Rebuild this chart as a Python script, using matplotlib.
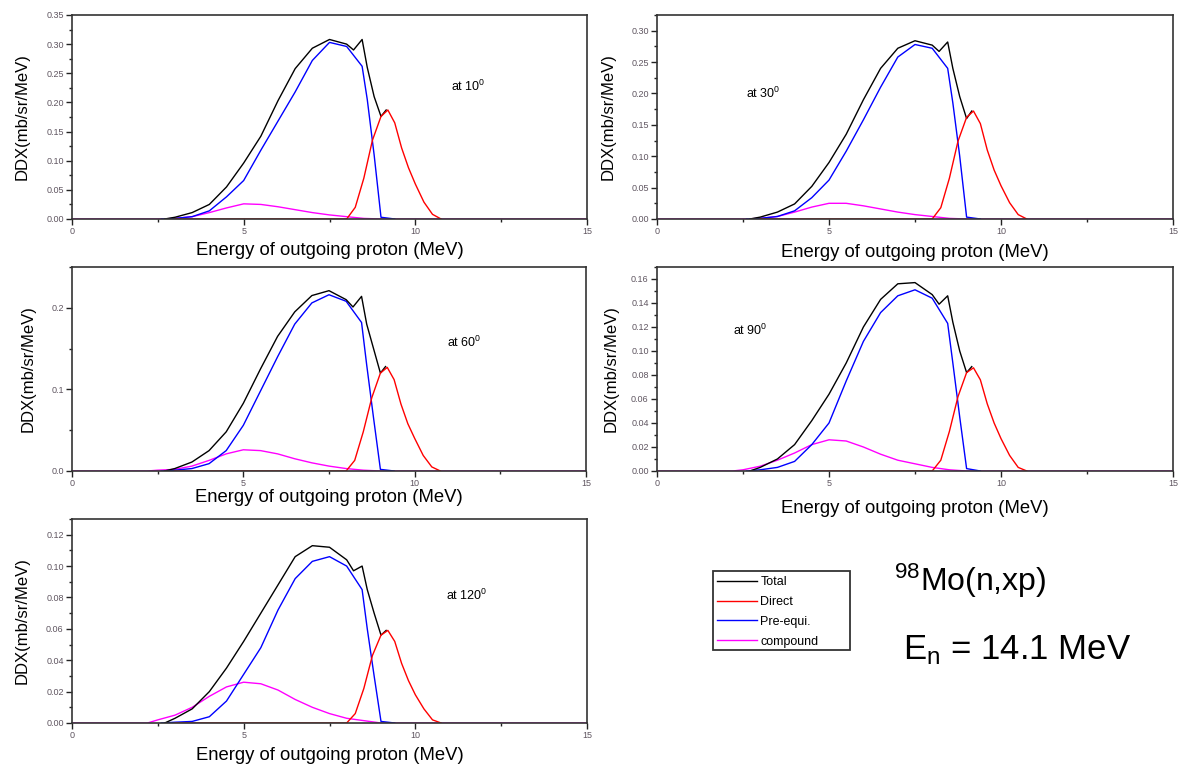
import matplotlib
matplotlib.use("Agg")
import matplotlib.pyplot as plt
from matplotlib.ticker import MultipleLocator, FormatStrFormatter
from matplotlib.lines import Line2D
from matplotlib.patches import Rectangle

plt.rcParams['font.family'] = ['Liberation Sans', 'DejaVu Sans']
plt.rcParams['mathtext.fontset'] = 'custom'
plt.rcParams['mathtext.rm'] = 'Liberation Sans'
plt.rcParams['mathtext.it'] = 'Liberation Sans:italic'

# energy grids (MeV) for each component
e_total = [2.7, 3.0, 3.5, 4.0, 4.5, 5.0, 5.5, 6.0, 6.5, 7.0, 7.5, 8.0, 8.2, 8.45, 8.6, 8.8, 9.0, 9.15]
e_pre = [2.6, 3.0, 3.5, 4.0, 4.5, 5.0, 5.5, 6.0, 6.5, 7.0, 7.5, 8.0, 8.45, 8.6, 8.8, 9.0, 9.4]
e_direct = [3.0, 8.0, 8.25, 8.5, 8.75, 9.0, 9.2, 9.4, 9.6, 9.8, 10.0, 10.25, 10.5, 10.75]
e_comp = [0, 2.2, 2.5, 3.0, 3.5, 4.0, 4.5, 5.0, 5.5, 6.0, 6.5, 7.0, 7.5, 8.0, 8.5, 9.0, 15]

# 10 deg
total_10 = [0, 0.003, 0.011, 0.025, 0.055, 0.096, 0.142, 0.203, 0.258, 0.293, 0.308, 0.300, 0.290, 0.308, 0.26, 0.21, 0.176, 0.187]
pre_10 = [0, 0.001, 0.004, 0.014, 0.038, 0.066, 0.118, 0.168, 0.218, 0.272, 0.303, 0.296, 0.262, 0.205, 0.11, 0.003, 0]
direct_10 = [0, 0, 0.02, 0.07, 0.135, 0.176, 0.187, 0.165, 0.122, 0.088, 0.06, 0.029, 0.008, 0]
comp_10 = [0, 0, 0, 0.001, 0.004, 0.011, 0.019, 0.026, 0.025, 0.021, 0.016, 0.011, 0.007, 0.004, 0.001, 0, 0]

# 30 deg
total_30 = [0, 0.003, 0.011, 0.024, 0.052, 0.09, 0.135, 0.19, 0.24, 0.272, 0.284, 0.277, 0.267, 0.282, 0.24, 0.195, 0.16, 0.172]
pre_30 = [0, 0.001, 0.004, 0.013, 0.034, 0.062, 0.108, 0.158, 0.21, 0.258, 0.278, 0.272, 0.24, 0.185, 0.1, 0.003, 0]
direct_30 = [0, 0, 0.018, 0.065, 0.124, 0.162, 0.172, 0.152, 0.11, 0.078, 0.053, 0.026, 0.007, 0]
comp_30 = [0, 0, 0, 0.001, 0.004, 0.011, 0.019, 0.025, 0.025, 0.021, 0.016, 0.011, 0.007, 0.004, 0.001, 0, 0]

# 60 deg
total_60 = [0, 0.003, 0.011, 0.025, 0.048, 0.083, 0.125, 0.165, 0.195, 0.215, 0.221, 0.21, 0.201, 0.214, 0.18, 0.15, 0.12, 0.128]
pre_60 = [0, 0.001, 0.003, 0.009, 0.025, 0.056, 0.098, 0.14, 0.18, 0.206, 0.216, 0.208, 0.182, 0.13, 0.065, 0.002, 0]
direct_60 = [0, 0, 0.013, 0.048, 0.09, 0.12, 0.127, 0.112, 0.082, 0.058, 0.04, 0.019, 0.005, 0]
comp_60 = [0, 0, 0.001, 0.002, 0.006, 0.013, 0.021, 0.026, 0.025, 0.021, 0.015, 0.01, 0.006, 0.003, 0.001, 0, 0]

# 90 deg
total_90 = [0, 0.003, 0.01, 0.022, 0.042, 0.064, 0.09, 0.12, 0.143, 0.156, 0.157, 0.147, 0.139, 0.146, 0.124, 0.1, 0.082, 0.087]
pre_90 = [0, 0.001, 0.003, 0.008, 0.022, 0.04, 0.075, 0.108, 0.132, 0.146, 0.151, 0.144, 0.123, 0.09, 0.045, 0.002, 0]
direct_90 = [0, 0, 0.009, 0.033, 0.062, 0.082, 0.086, 0.076, 0.056, 0.04, 0.027, 0.013, 0.003, 0]
comp_90 = [0, 0, 0.001, 0.004, 0.009, 0.015, 0.022, 0.026, 0.025, 0.02, 0.014, 0.009, 0.006, 0.003, 0.001, 0, 0]

# 120 deg
total_120 = [0, 0.003, 0.009, 0.02, 0.035, 0.052, 0.07, 0.088, 0.106, 0.113, 0.112, 0.104, 0.097, 0.1, 0.085, 0.07, 0.056, 0.059]
pre_120 = [0, 0.0005, 0.001, 0.004, 0.014, 0.031, 0.048, 0.072, 0.092, 0.103, 0.106, 0.1, 0.085, 0.06, 0.03, 0.001, 0]
direct_120 = [0, 0, 0.006, 0.022, 0.043, 0.056, 0.059, 0.052, 0.038, 0.027, 0.018, 0.009, 0.002, 0]
comp_120 = [0, 0, 0.002, 0.005, 0.01, 0.017, 0.023, 0.026, 0.025, 0.021, 0.015, 0.01, 0.006, 0.003, 0.0015, 0, 0]

W, H = 1182, 769
fig = plt.figure(figsize=(W / 100, H / 100), dpi=100)


def px_axes(left, top, right, bottom):
    return fig.add_axes([left / W, 1 - bottom / H, (right - left) / W, (bottom - top) / H])


panels = [
    # box, ymax, ymajor, fmt, data, angle label, label pos, ylabel x, xlabel y
    ((72, 15, 587, 219), 0.35, 0.05, '%.2f', (total_10, direct_10, pre_10, comp_10), 'at 10$^{0}$', (11.05, 0.228), -0.097, -0.152),
    ((657, 15, 1173, 219), 0.325, 0.05, '%.2f', (total_30, direct_30, pre_30, comp_30), 'at 30$^{0}$', (2.6, 0.20), -0.095, -0.165),
    ((72, 267, 586, 471), 0.25, 0.1, '%.1f', (total_60, direct_60, pre_60, comp_60), 'at 60$^{0}$', (10.95, 0.157), -0.086, -0.13),
    ((657, 267, 1173, 471), 0.17, 0.02, '%.2f', (total_90, direct_90, pre_90, comp_90), 'at 90$^{0}$', (2.2, 0.117), -0.089, -0.185),
    ((72, 519, 587, 723), 0.13, 0.02, '%.2f', (total_120, direct_120, pre_120, comp_120), 'at 120$^{0}$', (10.9, 0.081), -0.097, -0.157),
]

for box, ymax, ymaj, fmt, data, angle, pos, ylx, xly in panels:
    ax = px_axes(*box)
    tot, dirc, pre, comp = data
    ax.plot(e_comp, comp, color='#ff00ff', lw=1.0)
    ax.plot(e_pre, pre, color='#0000ff', lw=1.0)
    ax.plot(e_total, tot, color='black', lw=1.0)
    ax.plot(e_direct, dirc, color='#ff0000', lw=1.0)

    ax.set_xlim(0, 15)
    ax.set_ylim(0, ymax)
    ax.xaxis.set_major_locator(MultipleLocator(5))
    ax.xaxis.set_minor_locator(MultipleLocator(2.5))
    ax.yaxis.set_major_locator(MultipleLocator(ymaj))
    ax.yaxis.set_minor_locator(MultipleLocator(ymaj / 2))
    ax.yaxis.set_major_formatter(FormatStrFormatter(fmt))
    ax.tick_params(which='both', direction='out', labelsize=6.5, labelcolor='#5f5560',
                   color='#222222', width=1.0, pad=2)
    ax.tick_params(which='major', length=4)
    ax.tick_params(which='minor', length=2.5)
    for sp in ax.spines.values():
        sp.set_color('#333333')
        sp.set_linewidth(1.2)

    ax.set_xlabel('Energy of outgoing proton (MeV)', fontsize=13.3)
    ax.xaxis.label.set_va('center')
    ax.xaxis.set_label_coords(0.5, xly)
    ax.set_ylabel('DDX(mb/sr/MeV)', fontsize=12)
    ax.yaxis.label.set_va('center')
    ax.yaxis.set_label_coords(ylx, 0.5)

    ax.text(pos[0], pos[1], angle, fontsize=9, va='center', ha='left')

# legend box drawn as a plain frame, entries placed inside it
fig.patches.append(Rectangle((713 / W, 1 - 650 / H), 137 / W, 79 / H, transform=fig.transFigure,
                             fill=False, edgecolor='#333333', linewidth=1.3))
handles = [Line2D([], [], color='black', lw=1.0),
           Line2D([], [], color='#ff0000', lw=1.0),
           Line2D([], [], color='#0000ff', lw=1.0),
           Line2D([], [], color='#ff00ff', lw=1.0)]
fig.legend(handles, ['Total', 'Direct', 'Pre-equi.', 'compound'],
           loc='upper left', bbox_to_anchor=(716 / W, 1 - 575 / H),
           fontsize=9, frameon=False, borderaxespad=0, borderpad=0.1,
           handlelength=3.2, handletextpad=0.25, labelspacing=0.62)

fig.text(894 / W, 1 - 591 / H, '$^{98}$Mo(n,xp)', fontsize=23, va='baseline', ha='left')
fig.text(903 / W, 1 - 659 / H, 'E$_{\\mathrm{n}}$ = 14.1 MeV', fontsize=25, va='baseline', ha='left')

fig.savefig('out.png', dpi=100)
